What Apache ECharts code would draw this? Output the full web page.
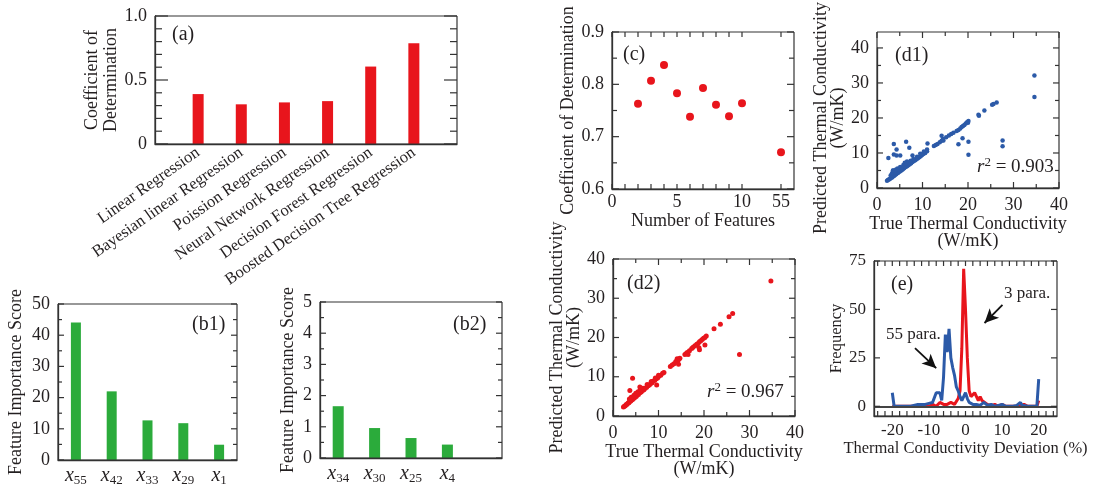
<!DOCTYPE html>
<html>
<head>
<meta charset="utf-8">
<script src="https://cdn.jsdelivr.net/npm/echarts@6.0.0/dist/echarts.min.js"></script>
<style>
  html, body { margin: 0; background: #fff; }
  #figure { position: relative; width: 1093px; height: 487px; }
  .panel { position: absolute; left: 0; top: 0; width: 1093px; height: 487px; }
</style>
</head>
<body>
<div id="figure"></div>
<script>
// ---- data ----
// (a) coefficient of determination per model
const models = ['Linear Regression', 'Bayesian linear Regression', 'Poission Regression',
  'Neural Network Regression', 'Decision Forest Regression', 'Boosted Decision Tree Regression'];
const modelR2 = [0.39, 0.31, 0.325, 0.335, 0.605, 0.787];

// (b1) / (b2) feature importance
const topFeatures = ['55', '42', '33', '29', '1'];
const topScores = [44.1, 22.0, 12.7, 11.8, 4.9];
const lowFeatures = ['34', '30', '25', '4', ''];
const lowScores = [1.66, 0.96, 0.64, 0.43];

// (c) r2 vs number of features (axis is broken between 10 and 55)
const featureSlots = ['0', '1', '2', '3', '4', '5', '6', '7', '8', '9', '10', '11', '12', '55', '14'];
const featureCounts = [2, 3, 4, 5, 6, 7, 8, 9, 10, 55];
const countR2 = [0.763, 0.807, 0.837, 0.783, 0.738, 0.793, 0.761, 0.739, 0.764, 0.670];

// (d1) true vs predicted, 55 features
const predAll = [
  [2.2, 2.1], [2.4, 2.3], [2.6, 2.4], [2.8, 2.6], [3.0, 2.8], [3.2, 3.0], [3.4, 3.1], [3.6, 3.4],
  [3.8, 3.5], [4.0, 3.8], [4.2, 3.9], [4.4, 4.2], [4.6, 4.3], [4.8, 4.6], [5.0, 4.7], [5.2, 4.9],
  [5.4, 5.1], [5.6, 5.3], [5.8, 5.5], [6.0, 5.7], [6.3, 6.0], [6.6, 6.2], [6.9, 6.5], [7.2, 6.8],
  [7.5, 7.1], [7.8, 7.4], [8.1, 7.7], [8.4, 7.9], [8.7, 8.2], [9.0, 8.5], [9.3, 8.8], [9.6, 9.1],
  [9.9, 9.4], [10.2, 9.7], [10.6, 10.0], [11.0, 10.5],
  [3.0, 3.6], [3.3, 4.2], [3.6, 5.0], [3.9, 4.5], [4.2, 5.3], [4.5, 5.6], [4.8, 5.2], [5.1, 6.0],
  [5.4, 5.8], [5.8, 6.6], [6.1, 7.2], [6.4, 6.9], [6.6, 7.6], [7.0, 7.3], [7.4, 7.8], [8.0, 8.3],
  [8.8, 8.9], [9.5, 9.8], [10.3, 10.4], [11.0, 11.0], [3.5, 5.0], [4.0, 5.0],
  [12.5, 12.0], [12.9, 12.3], [13.3, 12.6], [13.8, 13.1], [14.2, 13.5], [14.5, 14.0], [15.2, 14.5],
  [15.8, 15.0], [16.3, 15.4], [16.8, 15.8], [17.5, 16.3], [17.9, 16.6], [18.3, 17.0], [18.6, 17.4],
  [18.9, 17.7], [19.2, 18.0], [19.5, 18.4], [19.8, 18.8], [20.1, 19.1], [20.0, 18.6],
  [22.3, 20.9], [22.4, 20.6], [23.6, 22.1], [25.3, 23.8], [25.6, 24.0], [26.3, 24.4],
  [34.6, 32.1], [34.6, 26.0],
  [2.5, 8.6], [3.7, 12.6], [4.3, 11.0], [3.7, 9.6], [4.3, 9.3], [5.1, 9.3], [6.4, 13.2], [7.1, 11.5],
  [7.8, 9.3], [11.1, 12.7], [14.2, 14.9], [14.6, 13.6], [17.9, 12.5], [18.8, 14.2], [20.1, 13.2],
  [20.1, 9.5], [27.6, 13.6], [27.6, 11.9]
];

// (d2) true vs predicted, 3 features
const predTop = [
  [2.3, 2.3], [2.5, 2.5], [2.7, 2.6], [2.9, 2.9], [3.1, 3.0], [3.3, 3.3], [3.5, 3.4], [3.7, 3.7],
  [3.9, 3.8], [4.1, 4.1], [4.3, 4.2], [4.5, 4.5], [4.7, 4.6], [4.9, 4.9], [5.1, 5.0], [5.3, 5.3],
  [5.6, 5.5], [5.9, 5.9], [6.2, 6.1], [6.5, 6.5], [6.8, 6.7], [7.1, 7.1], [7.4, 7.3], [7.7, 7.7],
  [8.0, 7.9], [8.3, 8.3], [8.6, 8.5], [8.9, 8.9], [9.2, 9.1], [9.5, 9.5], [9.8, 9.7], [10.1, 10.1],
  [10.5, 10.4], [10.9, 10.9], [11.2, 11.1],
  [3.6, 4.3], [4.0, 4.8], [4.6, 5.3], [5.0, 5.8], [5.5, 6.2], [6.0, 6.6], [6.6, 7.1], [7.5, 8.0],
  [8.4, 8.8], [9.3, 9.7], [10.0, 10.4],
  [12.6, 12.6], [13.0, 13.0], [13.4, 13.3], [13.8, 13.9], [14.1, 14.6], [14.3, 14.2], [14.5, 14.5],
  [14.4, 13.2], [14.7, 14.7], [15.8, 15.7], [16.1, 15.9], [16.3, 16.2], [16.5, 15.7], [16.8, 16.6],
  [17.3, 17.2], [17.6, 17.5], [18.0, 17.9], [18.4, 18.3], [18.7, 18.5], [19.0, 18.9], [19.3, 19.2],
  [19.6, 19.5], [19.9, 19.8], [20.2, 20.0], [20.5, 20.4], [19.0, 16.9], [20.2, 18.1], [18.9, 17.4],
  [22.2, 22.2], [23.6, 23.4], [25.5, 25.3], [26.3, 26.1], [34.7, 34.4], [27.8, 15.7],
  [4.3, 9.6], [3.7, 6.5], [5.9, 7.4], [9.6, 7.9]
];

// (e) deviation histograms [deviation %, frequency]
const hist55 = [
  [-20, 7], [-19.5, 0], [-15, 0], [-13, 1], [-12.5, 0], [-11, 1], [-10.5, 0.5], [-10, 1.5], [-9, 2],
  [-8, 7], [-7.5, 6], [-7, 7], [-6.5, 3], [-6, 15], [-5.5, 37], [-5, 28], [-4.5, 40], [-4, 25],
  [-3.5, 20], [-3, 16], [-2.5, 10], [-2, 8], [-1.5, 5], [-1, 3], [-0.5, 5], [0, 7], [0.5, 4],
  [1, 2], [1.5, 3], [2, 1], [2.5, 2], [3, 1], [4, 0.5], [5, 2], [6, 0.5], [7, 1], [8, 0], [9, 0.5],
  [10, 1], [11, 0], [13, 0], [14, 0.5], [15, 2], [15.5, 0.5], [16, 1], [17, 0], [19.5, 0], [20, 14]
];
const hist3 = [
  [-20, 0], [-19.5, 1], [-19, 0], [-10, 0], [-9, 1], [-8, 0], [-7, 2], [-6, 1], [-5, 1], [-4, 2],
  [-3.5, 3], [-3, 1], [-2.5, 2], [-2, 4], [-1.5, 8], [-1, 30], [-0.5, 71], [0, 50], [0.5, 25],
  [1, 8], [1.5, 5], [2, 6], [2.5, 7], [3, 5], [3.5, 3], [4, 5], [4.5, 3], [5, 2], [6, 1], [7, 0.5],
  [8, 1], [9, 0], [10, 1], [11, 0], [15, 0], [16, 1], [17, 0], [19.5, 0], [20, 3]
];

// tick positions (axis values)
const devTicks = [-24, -22, -20, -18, -16, -14, -12, -10, -8, -6, -4, -2, 0, 2, 4, 6, 8, 10, 12, 14, 16, 18, 20, 22, 24];
const devLabels = [-20, -10, 0, 10, 20];
const freqTicks = [0, 25, 50, 75];
const r2Major = [0, 0.5, 1];
const r2Minor = [0.1, 0.2, 0.3, 0.4, 0.6, 0.7, 0.8, 0.9];
const scoreMajor = [0, 10, 20, 30, 40, 50];
const scoreMinor = [5, 15, 25, 35, 45];
const lowMajor = [0, 1, 2, 3, 4, 5];
const lowMinor = [0.5, 1.5, 2.5, 3.5, 4.5];
const slotTicks = [0, 1, 2, 3, 4, 5, 6, 7, 8, 9, 10, 13];
const cMajor = [0.6, 0.7, 0.8, 0.9];
const cMinor = [0.65, 0.75, 0.85];
const parityMajor = [0, 10, 20, 30, 40];
const parityMinor = [5, 15, 25, 35];

// ---- styling ----
const FONT = 'Liberation Serif';
const INK = '#231f20';
const FRAME = '#333';
const RED = '#e8151c';
const GREEN = '#2bab3b';
const BLUE = '#2c5aa8';

function tag(text, x, y, size, rich) {
  return { type: 'text', x: x, y: y, silent: true, z: 10,
    style: { text: text, fontFamily: FONT, fontSize: size || 20, fill: INK, verticalAlign: 'middle', rich: rich } };
}

// every panel is its own chart instance laid over the same page area;
// the frame and the inward ticks are drawn afterwards from the axes' own pixel mapping
const panels = [];
function panel(box, xOpt, yOpt, seriesList, texts, tickSpec) {
  const axisBase = {
    gridIndex: 0, axisLine: { show: true, onZero: false, lineStyle: { color: FRAME, width: 1.3 } },
    axisTick: { show: false }, splitLine: { show: false }, nameLocation: 'middle',
    nameTextStyle: { fontFamily: FONT, fontSize: 18, color: INK }
  };
  panels.push({
    box: box, texts: texts, ticks: tickSpec,
    option: {
      animation: false,
      grid: [Object.assign({}, box)],
      xAxis: [Object.assign({}, axisBase, { position: 'bottom' }, xOpt)],
      yAxis: [Object.assign({}, axisBase, { position: 'left' }, yOpt)],
      series: seriesList
    }
  });
}

// (a)
panel({ left: 155, top: 16, width: 302, height: 128 },
  { type: 'category', data: [''].concat(models, [' ']), boundaryGap: false,
    axisLabel: { interval: 0, rotate: 35, margin: 7, fontFamily: FONT, fontSize: 16.5, color: INK } },
  { type: 'value', min: 0, max: 1, interval: 0.5,
    axisLabel: { fontFamily: FONT, fontSize: 18, color: INK, formatter: v => v === 0 ? '0' : v.toFixed(1) },
    name: 'Coefficient of\nDetermination', nameGap: 34,
    nameTextStyle: { fontFamily: FONT, fontSize: 18, color: INK, lineHeight: 19 } },
  [{ type: 'bar', barWidth: 11, itemStyle: { color: RED }, data: [null].concat(modelR2, [null]) }],
  [tag('(a)', 172, 35)],
  { y: [[r2Major, 13], [r2Minor, 7]] });

// (b1) and (b2)
const subLabel = () => ({
  interval: 0, margin: 5, formatter: v => v ? '{i|x}{s|' + v + '}' : '',
  rich: {
    i: { fontFamily: FONT, fontStyle: 'italic', fontSize: 20, color: INK },
    s: { fontFamily: FONT, fontSize: 13, color: INK, padding: [9, 0, 0, 0] }
  }
});

panel({ left: 58, top: 304, width: 179, height: 156 },
  { type: 'category', data: topFeatures, axisLabel: subLabel() },
  { type: 'value', min: 0, max: 50, interval: 10,
    axisLabel: { fontFamily: FONT, fontSize: 18, color: INK },
    name: 'Feature Importance Score', nameGap: 33 },
  [{ type: 'bar', barWidth: 10, itemStyle: { color: GREEN }, data: topScores }],
  [tag('(b1)', 192, 325)],
  { y: [[scoreMajor, 6], [scoreMinor, 4]] });

panel({ left: 320, top: 302, width: 182, height: 156 },
  { type: 'category', data: lowFeatures, axisLabel: subLabel() },
  { type: 'value', min: 0, max: 5, interval: 1,
    axisLabel: { fontFamily: FONT, fontSize: 18, color: INK },
    name: 'Feature Importance Score', nameGap: 23 },
  [{ type: 'bar', barWidth: 11, itemStyle: { color: GREEN }, data: lowScores }],
  [tag('(b2)', 453, 325)],
  { y: [[lowMajor, 6], [lowMinor, 4]] });

// (c)
panel({ left: 612, top: 32, width: 182, height: 157 },
  { type: 'category', data: featureSlots, boundaryGap: false,
    axisLabel: { interval: 0, margin: 4, fontFamily: FONT, fontSize: 18, color: INK,
      formatter: v => ['0', '5', '10', '55'].indexOf(v) >= 0 ? v : '' },
    name: 'Number of Features', nameGap: 17,
    nameTextStyle: { fontFamily: FONT, fontSize: 18, color: INK, verticalAlign: 'top' } },
  { type: 'value', min: 0.6, max: 0.9, interval: 0.1,
    axisLabel: { fontFamily: FONT, fontSize: 18, color: INK, formatter: v => v.toFixed(1) },
    name: 'Coefficient of Determination', nameGap: 31 },
  [{ type: 'scatter', symbolSize: 8, itemStyle: { color: RED, opacity: 1 },
    data: featureCounts.map((n, i) => [String(n), countR2[i]]) }],
  [tag('(c)', 623, 55)],
  { x: [[slotTicks, 5]], y: [[cMajor, 7], [cMinor, 5]] });

// (d1) and (d2)
function parityAxis(extra) {
  return Object.assign({ type: 'value', min: 0, max: 40, interval: 10,
    axisLabel: { fontFamily: FONT, fontSize: 18, color: INK } }, extra);
}
const nameStyle2 = () => ({ fontFamily: FONT, fontSize: 18, color: INK, lineHeight: 17 });
const r2Rich = () => ({
  r: { fontFamily: FONT, fontStyle: 'italic', fontSize: 19, fill: INK },
  p: { fontFamily: FONT, fontSize: 13, fill: INK, padding: [0, 0, 9, 0] },
  n: { fontFamily: FONT, fontSize: 19, fill: INK }
});
const parityTicks = { x: [[parityMajor, 6], [parityMinor, 4]], y: [[parityMajor, 6], [parityMinor, 4]] };

panel({ left: 877, top: 32, width: 182, height: 156 },
  parityAxis({ name: 'True Thermal Conductivity\n(W/mK)', nameGap: 26,
    nameTextStyle: Object.assign(nameStyle2(), { verticalAlign: 'top' }) }),
  parityAxis({ name: 'Predicted Thermal Conductivity\n(W/mK)', nameGap: 28, nameTextStyle: nameStyle2() }),
  [{ type: 'scatter', symbolSize: 4.5, itemStyle: { color: BLUE, opacity: 1 }, data: predAll }],
  [tag('(d1)', 895, 56), tag('{r|r}{p|2}{n| = 0.903}', 977, 167, 19, r2Rich())],
  parityTicks);

panel({ left: 613, top: 259, width: 182, height: 157 },
  parityAxis({ name: 'True Thermal Conductivity\n(W/mK)', nameGap: 27,
    nameTextStyle: Object.assign(nameStyle2(), { verticalAlign: 'top' }) }),
  parityAxis({ name: 'Predicted Thermal Conductivity\n(W/mK)', nameGap: 29, nameTextStyle: nameStyle2() }),
  [{ type: 'scatter', symbolSize: 5, itemStyle: { color: RED, opacity: 1 }, data: predTop }],
  [tag('(d2)', 627, 284), tag('{r|r}{p|2}{n| = 0.967}', 707, 392, 19, r2Rich())],
  parityTicks);

// (e)
panel({ left: 874, top: 261, width: 183, height: 155 },
  { type: 'value', min: -25, max: 25,
    axisLabel: { fontFamily: FONT, fontSize: 17, color: INK, margin: 6, customValues: devLabels },
    name: 'Thermal Conductivity Deviation (%)', nameGap: 22,
    nameTextStyle: { fontFamily: FONT, fontSize: 16.5, color: INK, verticalAlign: 'top' } },
  { type: 'value', min: -5, max: 75,
    axisLabel: { fontFamily: FONT, fontSize: 17, color: INK, customValues: freqTicks },
    name: 'Frequency', nameGap: 29, nameTextStyle: { fontFamily: FONT, fontSize: 16.5, color: INK } },
  [
    { type: 'line', data: hist3, showSymbol: false, lineStyle: { color: RED, width: 3 }, itemStyle: { color: RED },
      markLine: { silent: true, symbol: ['none', 'none'], label: { show: false },
        lineStyle: { color: '#444', width: 2, type: 'solid' }, data: [{ yAxis: 0 }] } },
    { type: 'line', data: hist55, showSymbol: false, lineStyle: { color: BLUE, width: 3 }, itemStyle: { color: BLUE },
      markLine: { silent: true, symbol: ['none', 'arrow'], symbolSize: [10, 14], label: { show: false },
        lineStyle: { color: '#111', width: 1.8, type: 'solid' },
        data: [
          [{ coord: [10.1, 52.3] }, { coord: [5.2, 43] }],
          [{ coord: [-13.8, 30] }, { coord: [-8.0, 19.7] }]
        ] } }
  ],
  [tag('(e)', 891, 285), tag('3 para.', 1004, 294, 17), tag('55 para.', 886, 335, 17)],
  { x: [[devTicks, 5]], y: [[freqTicks, 6]] });

function seg(x1, y1, x2, y2) {
  return { type: 'line', silent: true, z: 5, shape: { x1: x1, y1: y1, x2: x2, y2: y2 },
    style: { stroke: FRAME, lineWidth: 1.2 } };
}

const figure = document.getElementById('figure');
panels.forEach(p => {
  const div = document.createElement('div');
  div.className = 'panel';
  figure.appendChild(div);
  const chart = echarts.init(div);
  chart.setOption(p.option);

  const L = p.box.left, T = p.box.top, R = L + p.box.width, B = T + p.box.height;
  const marks = [seg(L, T, R, T), seg(R, T, R, B), seg(L, T, L, B), seg(L, B, R, B)];
  (p.ticks.y || []).forEach(([vals, len]) => vals.forEach(v => {
    const py = chart.convertToPixel({ yAxisIndex: 0 }, v);
    marks.push(seg(L, py, L + len, py), seg(R - len, py, R, py));
  }));
  (p.ticks.x || []).forEach(([vals, len]) => vals.forEach(v => {
    const px = chart.convertToPixel({ xAxisIndex: 0 }, v);
    marks.push(seg(px, B, px, B - len), seg(px, T, px, T + len));
  }));
  chart.setOption({ graphic: p.texts.concat(marks) });
});
</script>
</body>
</html>
